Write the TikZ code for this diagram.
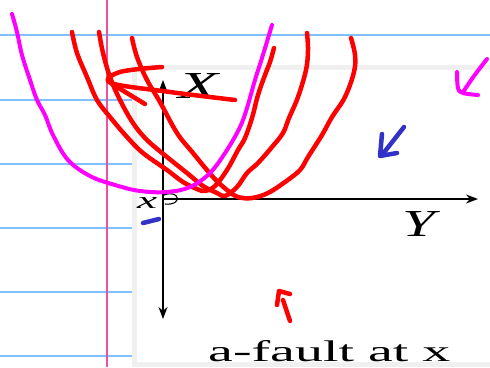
\documentclass[tikz,border=0pt]{standalone}
\usepackage{fontspec}
\setmainfont{Liberation Serif}
\usetikzlibrary{arrows.meta}
\definecolor{ruleblue}{RGB}{128,192,255}
\definecolor{marginpink}{RGB}{240,80,160}
\definecolor{panelgray}{RGB}{240,240,240}
\definecolor{inkred}{RGB}{255,0,0}
\definecolor{inkmag}{RGB}{255,0,255}
\definecolor{inkblue}{RGB}{50,50,200}
\tikzset{
  rule/.style={ruleblue, line width=1.6pt},
  axis/.style={black, line width=1.5pt},
  redink/.style={inkred, line width=4.5pt, line cap=round, line join=round},
  magink/.style={inkmag, line width=4pt, line cap=round, line join=round},
  blueink/.style={inkblue, line width=4.5pt, line cap=round, line join=round},
  lbl/.style={inner sep=0pt, anchor=base west},
  hand/.style={smooth, tension=0.6}
}
\begin{document}
\begin{tikzpicture}[x=1pt, y=-1pt]
\useasboundingbox (0,0) rectangle (490,367);
\fill[white] (0,0) rectangle (490,367);
% notebook rules
\foreach \yy in {35,100,164,228,292,356} \draw[rule] (0,\yy) -- (490,\yy);
\draw[marginpink, line width=1.3pt] (107,0) -- (107,367);
% pasted panel
\fill[panelgray] (132,65) rectangle (490,367);
\fill[white] (137,70) rectangle (490,362);
% axes
\coordinate (o) at (163,199);
\coordinate (xtip) at (163,80);
\coordinate (dtip) at (163,319);
\coordinate (ytip) at (478,199);
\draw[axis, {Stealth[length=12pt,width=9pt]}-{Stealth[length=12pt,width=9pt]}] (xtip) -- (dtip);
\draw[axis, -{Stealth[length=12pt,width=9pt]}] (o) -- (ytip);
\node[lbl] (lx) at (178,98) {\resizebox{42pt}{25pt}{\textit{X}}};
\node[lbl] (ly) at (402,236) {\resizebox{38pt}{25pt}{\textit{Y}}};
\node[lbl] (lo) at (137,208) {\resizebox{20pt}{11pt}{\textit{x}}};
\draw[black, line width=1.1pt] (164,195) .. controls (180,189) and (183,206) .. (165,204);
\node[lbl] (cap) at (208,361) {\resizebox{242pt}{21pt}{a-fault at x}};
% red parabolas
\draw[redink] plot[hand] coordinates {(72,32) (77,53) (87,77) (97,100) (110,117) (127,137) (143,153) (167,170) (183,182) (197,189) (205,191) (215,186) (227,170) (238,150) (245,138) (252,118) (258,95) (265,75) (270,62) (274,48)};
\draw[redink] plot[hand] coordinates {(99,32) (103,53) (110,77) (120,100) (133,123) (147,140) (167,157) (187,173) (203,186) (217,193) (225,196) (237,187) (247,173) (258,163) (272,147) (283,133) (289,118) (298,97) (306,70) (308,50) (307,33)};
\draw[redink] plot[hand] coordinates {(132,38) (137,57) (147,80) (160,102) (177,133) (193,153) (213,177) (227,190) (238,197) (252,198) (268,193) (285,182) (300,170) (308,157) (322,135) (332,117) (345,97) (354,72) (355,55) (351,38)};
% red marks
\draw[redink] plot[hand] coordinates {(162,67) (120,72) (111,83) (170,92) (235,100)};
\draw[redink] (112,84) -- (145,104);
\draw[redink] (290,321) -- (283,300);
\draw[redink] (277,305) -- (279,291) -- (290,294);
% magenta parabola
\draw[magink] plot[hand] coordinates {(12,14) (17,32) (22,55) (30,80) (37,100) (45,115) (53,135) (68,160) (90,176) (115,185) (140,191) (167,192) (190,187) (210,173) (227,150) (240,127) (247,108) (255,80) (262,58) (272,25)};
% magenta check
\draw[magink] plot[hand] coordinates {(457,72) (458,88) (463,93) (478,95)};
\draw[magink] plot[hand] coordinates {(487,59) (474,76) (463,92)};
% blue marks
\draw[blueink] (404,127) -- (382,155);
\draw[blueink] (382,134) -- (380,156) -- (397,153);
\draw[blueink] (143,223) -- (159,219);
\end{tikzpicture}
\end{document}
